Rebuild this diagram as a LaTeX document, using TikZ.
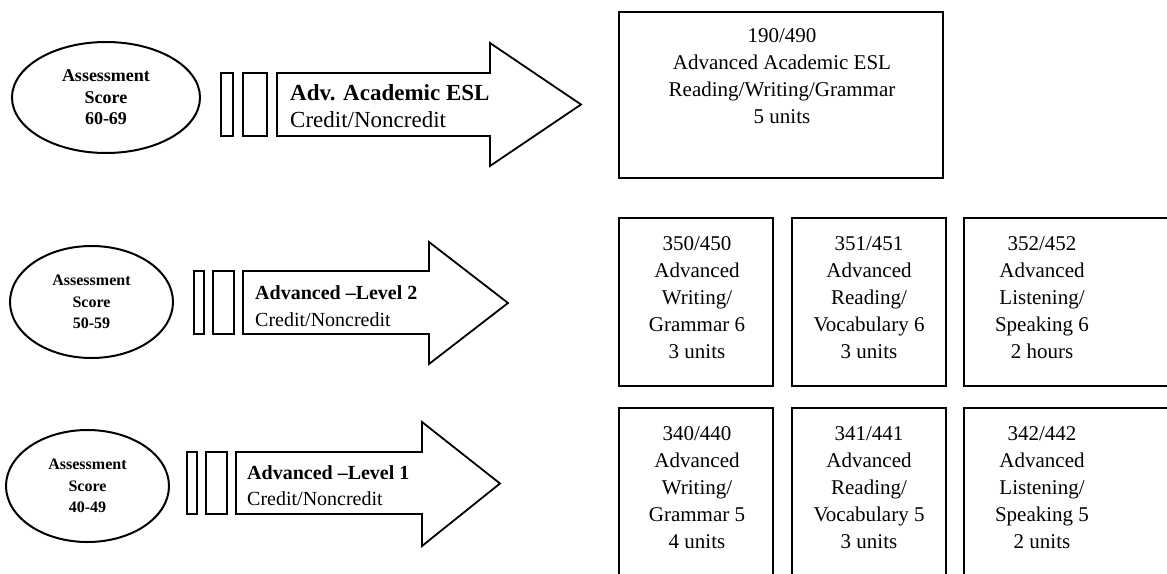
\documentclass[tikz,border=0pt]{standalone}
\usepackage{fontspec}
\setmainfont{Liberation Serif}
\usetikzlibrary{shapes.geometric}
\begin{document}
\begin{tikzpicture}[x=1pt,y=-1pt,
  score/.style={ellipse, draw, line width=2pt, inner sep=0pt, align=center},
  course/.style={align=center, font=\fontsize{21}{27}\selectfont, inner sep=0pt},
  frame/.style={line width=2.6pt},
  arrowshape/.style={draw, line width=1.8pt, line join=miter},
  bar/.style={draw, line width=1.5pt},
  atitle/.style={anchor=base west, inner sep=0pt, font=\bfseries\fontsize{20}{27}\selectfont},
  asub/.style={anchor=base west, inner sep=0pt, font=\fontsize{20}{27}\selectfont}]
\useasboundingbox (0,0) rectangle (1167,573);
\clip (0,0) rectangle (1167,573);

% ---- Row 1 ----
\node[score, minimum width=188pt, minimum height=111pt, font=\bfseries\fontsize{18}{21.5}\selectfont] (s1) at (106,97.5) {Assessment\\Score\\60-69};
\draw[bar] (221,73) rectangle (233,136);
\draw[bar] (243,73) rectangle (267,136);
\draw[arrowshape] (277,73) -- (490,73) -- (490,43) -- (581,104.5) -- (490,166) -- (490,136) -- (277,136) -- cycle;
\node[atitle, font=\bfseries\fontsize{23}{27}\selectfont] (a1t) at (290,100) {Adv. Academic ESL};
\node[asub, font=\fontsize{23}{27}\selectfont] (a1s) at (290,127) {Credit/Noncredit};
\draw[frame] (619,12) rectangle (943,178);
\node[course] (c1) at (782,76) {190/490\\Advanced Academic ESL\\Reading/Writing/Grammar\\5 units};

% ---- Row 2 ----
\node[score, minimum width=163pt, minimum height=112pt, font=\bfseries\fontsize{16}{21.5}\selectfont] (s2) at (91.5,302) {Assessment\\Score\\50-59};
\draw[bar] (194,271) rectangle (204,334);
\draw[bar] (213,271) rectangle (234,334);
\draw[arrowshape] (243,271) -- (429,271) -- (429,242) -- (508,303) -- (429,364) -- (429,334) -- (243,334) -- cycle;
\node[atitle] (a2t) at (255,299) {Advanced \textendash Level 2};
\node[asub] (a2s) at (255,326) {Credit/Noncredit};
\draw[frame] (619,218) rectangle (773,386);
\draw[frame] (792,218) rectangle (946,386);
\draw[frame] (964,218) rectangle (1190,386);
\node[course] (c21) at (697,297.5) {350/450\\Advanced\\Writing/\\Grammar 6\\3 units};
\node[course] (c22) at (869,297.5) {351/451\\Advanced\\Reading/\\Vocabulary 6\\3 units};
\node[course] (c23) at (1042,297.5) {352/452\\Advanced\\Listening/\\Speaking 6\\2 hours};

% ---- Row 3 ----
\node[score, minimum width=163pt, minimum height=112pt, font=\bfseries\fontsize{16}{21.5}\selectfont] (s3) at (87.5,486) {Assessment\\Score\\40-49};
\draw[bar] (187,452) rectangle (197,514);
\draw[bar] (206,452) rectangle (227,514);
\draw[arrowshape] (236,452) -- (422,452) -- (422,422) -- (500,483.5) -- (422,546) -- (422,514) -- (236,514) -- cycle;
\node[atitle] (a3t) at (247,479) {Advanced \textendash Level 1};
\node[asub] (a3s) at (247,505) {Credit/Noncredit};
\draw[frame] (619,408) rectangle (773,600);
\draw[frame] (792,408) rectangle (946,600);
\draw[frame] (964,408) rectangle (1190,600);
\node[course] (c31) at (697,487.5) {340/440\\Advanced\\Writing/\\Grammar 5\\4 units};
\node[course] (c32) at (869,487.5) {341/441\\Advanced\\Reading/\\Vocabulary 5\\3 units};
\node[course] (c33) at (1042,487.5) {342/442\\Advanced\\Listening/\\Speaking 5\\2 units};
\end{tikzpicture}
\end{document}
